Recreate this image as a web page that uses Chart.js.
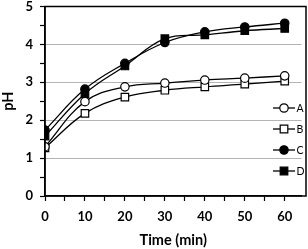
<!DOCTYPE html>
<html><head><meta charset="utf-8">
<script src="https://cdn.jsdelivr.net/npm/chart.js@4.4.1/dist/chart.umd.min.js"></script>
<style>html,body{margin:0;padding:0;background:#fff}#wrap{width:308px;height:249px}</style>
</head><body><div id="wrap"><canvas id="c" width="308" height="249"></canvas></div>
<script>
const times = [0, 10, 20, 30, 40, 50, 60];
const seriesA = [1.30, 2.49, 2.88, 2.98, 3.06, 3.11, 3.17];
const seriesB = [1.27, 2.18, 2.61, 2.79, 2.88, 2.95, 3.03];
const seriesC = [1.74, 2.82, 3.50, 4.05, 4.33, 4.46, 4.56];
const seriesD = [1.58, 2.70, 3.43, 4.15, 4.25, 4.36, 4.42];
const seriesNames = ['A', 'B', 'C', 'D'];
const yTickLabels = [0, 1, 2, 3, 4, 5];
const xTickLabels = [0, 10, 20, 30, 40, 50, 60];

const FONT = 'Lato, "Open Sans", sans-serif';
function mk(name, vals, style, fill) {
  return {
    label: name,
    data: times.map((t, i) => ({x: t, y: vals[i]})),
    borderColor: '#000', borderWidth: 1.3,
    backgroundColor: fill, pointBackgroundColor: fill, pointBorderColor: '#000',
    pointBorderWidth: 1.2, pointStyle: style,
    pointRadius: style === 'rect' ? 5.3 : 4.2,
    tension: 0.4, showLine: true, fill: false
  };
}
const datasets = [
  mk(seriesNames[0], seriesA, 'circle', '#fff'),
  mk(seriesNames[1], seriesB, 'rect', '#fff'),
  mk(seriesNames[2], seriesC, 'circle', '#000'),
  mk(seriesNames[3], seriesD, 'rect', '#000')
];

const frame = {
  id: 'frame',
  afterDraw(chart) {
    const {ctx, chartArea: a} = chart;
    ctx.save();
    ctx.strokeStyle = '#000'; ctx.lineWidth = 1.5;
    ctx.strokeRect(a.left, a.top, 306 - a.left, a.bottom - a.top);
    const ys = [108, 129, 150, 171];
    chart.data.datasets.forEach((ds, i) => {
      const y = ys[i];
      ctx.strokeStyle = '#000'; ctx.lineWidth = 1.3;
      ctx.beginPath(); ctx.moveTo(273, y); ctx.lineTo(295, y); ctx.stroke();
      ctx.fillStyle = ds.pointBackgroundColor; ctx.lineWidth = 1.2;
      ctx.beginPath();
      if (ds.pointStyle === 'rect') { ctx.rect(284 - 3.8, y - 3.8, 7.6, 7.6); }
      else { ctx.arc(284, y, 4.2, 0, Math.PI * 2); }
      ctx.fill(); ctx.stroke();
      ctx.fillStyle = '#000'; ctx.font = '10.5px ' + FONT;
      ctx.textAlign = 'left'; ctx.textBaseline = 'middle';
      ctx.fillText(ds.label, 296.5, y + 0.5);
    });
    ctx.restore();
  }
};

new Chart(document.getElementById('c'), {
  type: 'scatter',
  data: {datasets},
  options: {
    responsive: false, animation: false,
    layout: {padding: {top: 6, right: 0, left: 0, bottom: 0}},
    plugins: {legend: {display: false}, tooltip: {enabled: false}},
    scales: {
      x: {
        type: 'linear', min: 0, max: 64.2,
        afterBuildTicks: s => {
          const t = [];
          for (let v = 0; v <= xTickLabels[xTickLabels.length - 1]; v += 5) t.push({value: v});
          s.ticks = t;
        },
        ticks: {stepSize: 5, color: '#000', padding: 8, maxRotation: 0, minRotation: 0, autoSkip: false,
          font: {family: FONT, size: 13, weight: 'bold'},
          callback: v => xTickLabels.includes(v) ? String(v) : ''},
        grid: {drawOnChartArea: false, drawTicks: true, tickLength: 5, tickColor: '#000', tickWidth: 1.2},
        border: {display: true, color: '#000', width: 1.5},
        title: {display: true, text: 'Time (min)', color: '#000', padding: {top: 2, bottom: 0},
          font: {family: FONT, size: 14.5, weight: 'bold'}},
        afterFit: s => { s.height = 53; s.paddingRight = 0; s.paddingLeft = 0; }
      },
      y: {
        type: 'linear', min: 0, max: 5,
        ticks: {stepSize: 0.5, color: '#000', padding: 7, autoSkip: false,
          font: {family: FONT, size: 13, weight: 'bold'},
          callback: v => yTickLabels.includes(v) ? String(v) : ''},
        grid: {
          drawOnChartArea: true, drawTicks: true, tickLength: 5, tickColor: '#000', tickWidth: 1.2,
          color: c => (c.tick && Number.isInteger(c.tick.value) && c.tick.value > 0 && c.tick.value < 5) ? '#b4b4b4' : 'rgba(0,0,0,0)',
          lineWidth: 1
        },
        border: {display: true, color: '#000', width: 1.5},
        title: {display: true, text: 'pH', color: '#000', padding: {top: 0, bottom: 2},
          font: {family: FONT, size: 14.5, weight: 'bold'}},
        afterFit: s => { s.width = 45; s.paddingTop = 0; s.paddingBottom = 0; }
      }
    }
  },
  plugins: [frame]
});
</script></body></html>
